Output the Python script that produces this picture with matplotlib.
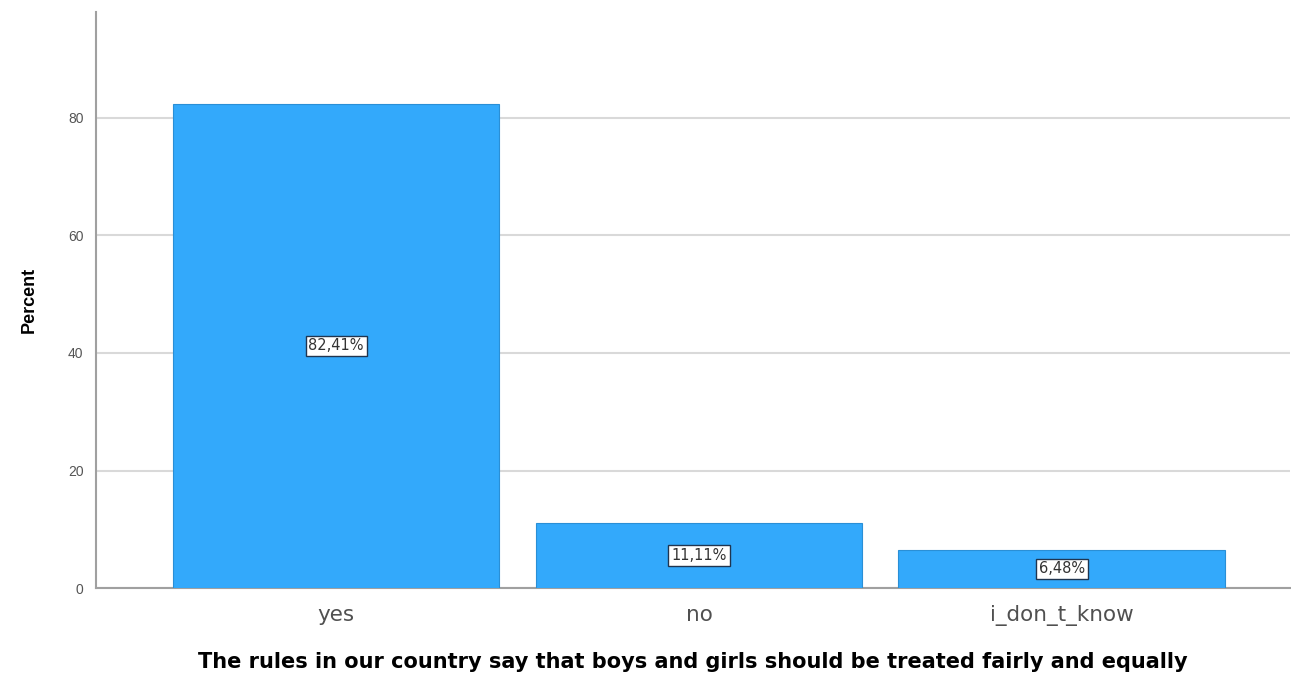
import matplotlib.pyplot as plt

categories = ['yes', 'no', 'i_don_t_know']
percents = [82.41, 11.11, 6.48]
value_labels = ['82,41%', '11,11%', '6,48%']
y_ticks = [0, 20, 40, 60, 80]

plt.rcParams['font.family'] = ['Liberation Sans', 'DejaVu Sans']

fig = plt.figure(figsize=(12.91, 6.79), dpi=100)
ax = fig.add_axes([0.0744, 0.134, 0.925, 0.848])

x = range(len(categories))
ax.bar(x, percents, width=0.9, color='#33a9fb', edgecolor='#2a8fd6',
       linewidth=0.8, zorder=3)

# reference text is stretched sideways, so use the wider DejaVu face
wide = 'DejaVu Sans'

for xi, p, lab in zip(x, percents, value_labels):
    ax.text(xi, p / 2, lab, ha='center', va='center', fontsize=10.5,
            family=wide, color='#333333', zorder=4,
            bbox=dict(boxstyle='square,pad=0.2', facecolor='white',
                      edgecolor='#1f3550', linewidth=1))

ax.set_xlim(-0.662, 2.63)
ax.set_ylim(0, 98)
ax.set_yticks(y_ticks)
ax.set_xticks(list(x))
ax.set_xticklabels(categories, fontsize=15.5, color='#505050', family=wide)
ax.tick_params(axis='y', labelsize=10, colors='#555555', length=0, pad=9)
ax.tick_params(axis='x', length=0, pad=12)

ax.grid(axis='y', color='#d9d9d9', linewidth=1.5, zorder=0)
ax.set_axisbelow(True)

for side in ['top', 'right']:
    ax.spines[side].set_visible(False)
for side in ['left', 'bottom']:
    ax.spines[side].set_color('#a0a0a0')
    ax.spines[side].set_linewidth(1.5)

ax.set_ylabel('Percent', fontsize=13, fontweight='bold', labelpad=22)
ax.set_xlabel('The rules in our country say that boys and girls should be treated fairly and equally',
              fontsize=15, fontweight='bold', family=wide, labelpad=19)

fig.savefig('out.png', dpi=100)
